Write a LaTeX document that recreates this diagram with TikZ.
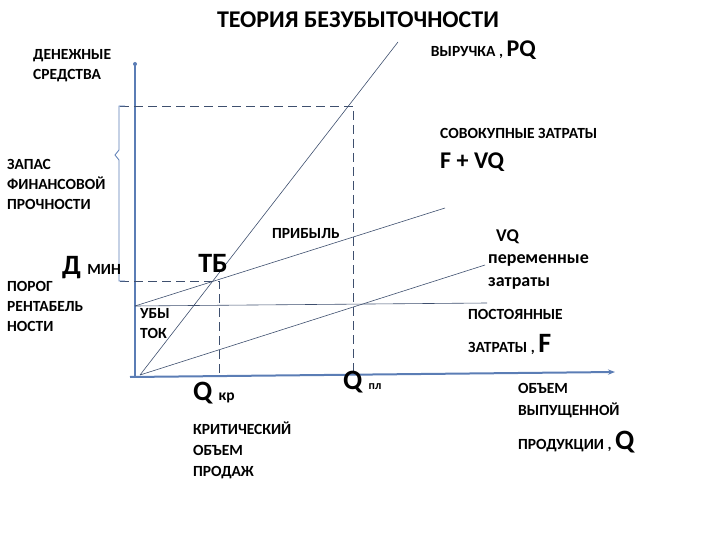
\documentclass[tikz,border=0pt]{standalone}
\usepackage{fontspec}
\setmainfont{Carlito}
\usetikzlibrary{arrows.meta}
\definecolor{axc}{HTML}{5B7DB5}
\definecolor{lnc}{HTML}{3E4F6E}
\newcommand{\sm}{\bfseries\fontsize{15.5}{20}\selectfont}
\newcommand{\bg}{\bfseries\fontsize{24}{26}\selectfont}
\newcommand{\bgg}{\bfseries\fontsize{28}{30}\selectfont}
\begin{document}
\begin{tikzpicture}[x=1pt,y=-1pt,
  ax/.style={axc,line width=2pt},
  ln/.style={lnc,line width=0.6pt},
  dsh/.style={lnc,line width=0.6pt,dash pattern=on 9pt off 5pt},
  lb/.style={font=\sm,align=left,inner sep=0pt},
  big/.style={font=\bg,inner sep=0pt}]
\useasboundingbox (0,0) rectangle (720,540);
\coordinate (O) at (135,376);
\coordinate (Ytop) at (135,64);
\coordinate (Xend) at (615,372);
\coordinate (Rs) at (140,375);
\coordinate (Re) at (398,42);
\coordinate (Fs) at (135,306);
\coordinate (Fe) at (487,303);
\coordinate (Ve) at (485,265);
\coordinate (Te) at (445,208);
\coordinate (TB) at (219,281);
\coordinate (QP) at (353,106);
\draw[ax] (O) -- (Ytop);
\fill[axc] (Ytop) circle (2pt);
\draw[ax,-{Stealth[length=7pt]}] (130,377) -- (Xend);
\draw[ln] (Rs) -- (Re);
\draw[ln] (Fs) -- (Fe);
\draw[ln] (Rs) -- (Ve);
\draw[ln] (Fs) -- (Te);
\draw[dsh] (120,106) -- (QP) -- (353,376);
\draw[dsh] (120,281) -- (TB) -- (219,376);
\draw[axc,line width=0.8pt] (125,106) -- (119,106) -- (119,150) -- (115,155) -- (119,160) -- (119,281) -- (125,281);
\node[big] (title) at (358,20) {ТЕОРИЯ БЕЗУБЫТОЧНОСТИ};
\node[lb,anchor=west] (ds) at (33,66) {ДЕНЕЖНЫЕ\\СРЕДСТВА};
\node[anchor=east,inner sep=0pt] (rev) at (536,50) {\sm ВЫРУЧКА , \bg PQ};
\node[lb,anchor=west] (st) at (440,133) {СОВОКУПНЫЕ ЗАТРАТЫ};
\node[big,anchor=west] (fvq) at (440,162) {F + VQ};
\node[lb,anchor=west] (zap) at (7,184) {ЗАПАС\\ФИНАНСОВОЙ\\ПРОЧНОСТИ};
\node[lb,anchor=west] (pr) at (272,234) {ПРИБЫЛЬ};
\node[font=\bgg,inner sep=0pt] (tb) at (213,263) {ТБ};
\node[anchor=west,inner sep=0pt] (dm) at (62,268) {\bgg Д \sm МИН};
\node[lb,anchor=west] (por) at (7,306) {ПОРОГ\\РЕНТАБЕЛЬ\\НОСТИ};
\node[lb,anchor=west] (ub) at (140,324) {УБЫ\\ТОК};
\node[lb,anchor=west,font=\bfseries\fontsize{18}{20}\selectfont] (vq) at (496,237) {VQ};
\node[lb,anchor=west,font=\bfseries\fontsize{18}{23}\selectfont,align=left] (per) at (488,272) {переменные\\затраты};
\node[lb,anchor=west] (post) at (468,314) {ПОСТОЯННЫЕ};
\node[anchor=west,inner sep=0pt] (zf) at (468,344) {\sm ЗАТРАТЫ , \bgg F};
\node[anchor=west,inner sep=0pt] (qkr) at (193,393) {\bgg Q \sm кр};
\node[anchor=west,inner sep=0pt] (qpl) at (343,382) {\bgg Q \bfseries\fontsize{12}{14}\selectfont пл};
\node[lb,anchor=north west,font=\bfseries\fontsize{15.5}{21}\selectfont] (krit) at (193,422) {КРИТИЧЕСКИЙ\\ОБЪЕМ\\ПРОДАЖ};
\node[lb,anchor=west,font=\bfseries\fontsize{15.5}{22}\selectfont] (ob) at (518,401) {ОБЪЕМ\\ВЫПУЩЕННОЙ};
\node[anchor=west,inner sep=0pt] (prod) at (518,442) {\sm ПРОДУКЦИИ , \bgg Q};
\end{tikzpicture}
\end{document}
